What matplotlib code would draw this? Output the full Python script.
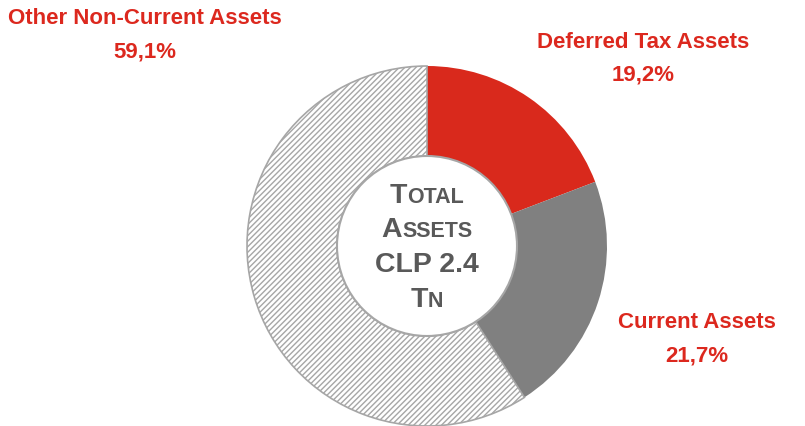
import matplotlib
matplotlib.use('Agg')
import matplotlib.pyplot as plt
from matplotlib.patches import Circle

plt.rcParams['font.family'] = ['Liberation Sans', 'DejaVu Sans']
plt.rcParams['hatch.color'] = '#a6a6a6'
plt.rcParams['hatch.linewidth'] = 1.0

# data
labels = ['Deferred Tax Assets', 'Current Assets', 'Other Non-Current Assets']
shares = [19.2, 21.7, 59.1]
share_txt = ['19,2%', '21,7%', '59,1%']
colors = ['#d9291c', '#808080', 'white']

RED = '#dc281e'
GREY_TXT = '#595959'

W, H = 805, 426
fig = plt.figure(figsize=(W / 100, H / 100), dpi=100)

# donut centre at (427, 246) px from top-left, outer radius 180 px
cx, cy, r = 427, 246, 180
ax = fig.add_axes([(cx - r) / W, (H - cy - r) / H, 2 * r / W, 2 * r / H])

wedges, _ = ax.pie(shares, colors=colors, startangle=90, counterclock=False,
                   radius=1, wedgeprops=dict(width=0.5, linewidth=0))
ax.set_xlim(-1, 1)
ax.set_ylim(-1, 1)
ax.set_aspect('equal')
ax.axis('off')
for w in wedges:
    w.set_clip_on(False)
wedges[2].set_hatch('//////')
wedges[2].set_edgecolor('#a6a6a6')
wedges[2].set_linewidth(1.2)

hole = Circle((0, 0), 0.5, facecolor='white', edgecolor='#a6a6a6', lw=1.5,
              zorder=5, clip_on=False)
ax.add_patch(hole)

# outer labels (pixel positions from top-left)
def px(x, y):
    return x / W, 1 - y / H

lab_pos = [(643, 42), (697, 323), (145, 19)]
for name, pct, (x, y) in zip(labels, share_txt, lab_pos):
    fig.text(*px(x, y), name, color=RED, fontsize=16, fontweight='bold',
             ha='center', va='center')
    fig.text(*px(x, y + 33), pct, color=RED, fontsize=16, fontweight='bold',
             ha='center', va='center')

# centre text in small caps: list of (text, size) pieces per line
center_lines = [
    [('T', 20.5), ('OTAL', 15.5)],
    [('A', 20.5), ('SSETS', 15.5)],
    [('CLP 2.4', 20.5)],
    [('T', 20.5), ('N', 15.5)],
]
line_y = [203, 237, 272, 307]

fig.canvas.draw()
renderer = fig.canvas.get_renderer()
for pieces, y in zip(center_lines, line_y):
    texts = []
    for s, fs in pieces:
        t = fig.text(0, 1 - y / H, s, color=GREY_TXT, fontsize=fs, fontweight='bold',
                     ha='left', va='baseline', zorder=10)
        texts.append(t)
    widths = [t.get_window_extent(renderer).width for t in texts]
    x0 = cx - sum(widths) / 2
    for t, wd in zip(texts, widths):
        t.set_x(x0 / W)
        x0 += wd

fig.savefig('out.png', dpi=100)
